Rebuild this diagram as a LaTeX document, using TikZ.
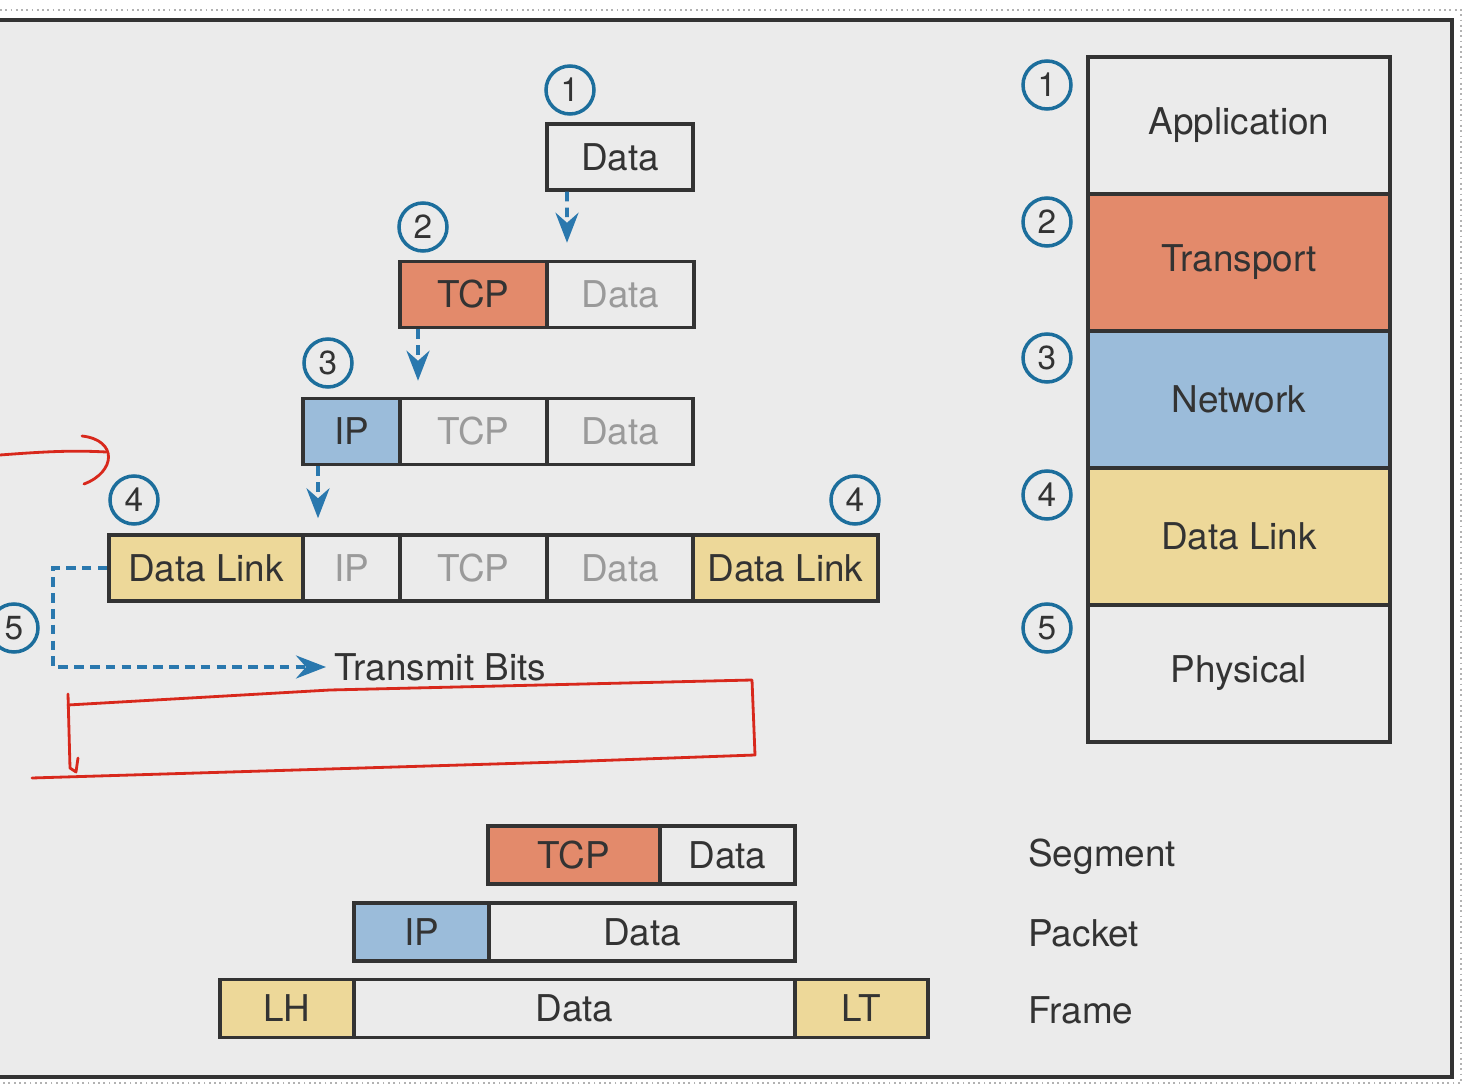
\documentclass[tikz,border=0pt]{standalone}
\usepackage{fontspec}
\setmainfont{TeX Gyre Heros}
\usetikzlibrary{arrows.meta}
\definecolor{tcporange}{HTML}{E38A6B}
\definecolor{ipblue}{HTML}{9BBCDA}
\definecolor{dlyellow}{HTML}{EDD899}
\definecolor{pagegrey}{HTML}{EBEBEB}
\definecolor{numblue}{HTML}{1C6E9C}
\definecolor{flowblue}{HTML}{2A78AE}
\definecolor{penred}{HTML}{D8281C}
\definecolor{boxline}{HTML}{333333}
\definecolor{fadedtext}{HTML}{9A9A9A}
\begin{document}
\begin{tikzpicture}[x=0.02cm,y=-0.02cm,
  cell/.style={draw=boxline,line width=2pt,minimum height=1.32cm,inner sep=0pt,
    font=\fontsize{21}{25}\selectfont,text=black!80},
  low/.style={cell,minimum height=1.16cm},
  layer/.style={cell,minimum width=6.04cm,minimum height=2.74cm},
  faded/.style={text=fadedtext},
  num/.style={circle,draw=numblue,line width=2pt,minimum size=0.96cm,inner sep=0pt,
    font=\fontsize{19}{22}\selectfont,text=black!80},
  lbl/.style={anchor=west,inner sep=0pt,font=\fontsize{21}{25}\selectfont,text=black!80},
  flow/.style={draw=flowblue,line width=2.2pt,dash pattern=on 5.5pt off 3.5pt,
    -{Stealth[length=0.6cm,width=0.46cm,inset=0.2cm,fill=flowblue]}},
  pen/.style={draw=penred,line width=1.6pt,line cap=round,line join=round}]
\useasboundingbox (0,0) rectangle (1471,1087);
\clip (0,0) rectangle (1471,1087);
\fill[white] (0,0) rectangle (1471,1087);
\fill[pagegrey] (0,20) rectangle (1452,1077);
\draw[gray!60,dotted,line width=1pt] (0,10) -- (1461,10) -- (1461,1083) -- (0,1083);
\draw[boxline,line width=2.2pt] (0,20) -- (1452,20) -- (1452,1077) -- (0,1077);

% encapsulation, top to bottom
\node[cell,minimum width=2.92cm] (data1) at (620,157) {Data};
\node[cell,minimum width=2.94cm,fill=tcporange] (tcp2) at (473.5,294.5) {TCP};
\node[cell,faded,minimum width=2.94cm,fill=pagegrey] (data2) at (620.5,294.5) {Data};
\node[cell,minimum width=1.94cm,fill=ipblue] (ip3) at (351.5,431.5) {IP};
\node[cell,faded,minimum width=2.94cm] (tcp3) at (473.5,431.5) {TCP};
\node[cell,faded,minimum width=2.92cm] (data3) at (620,431.5) {Data};
\node[cell,minimum width=3.88cm,fill=dlyellow] (dl4l) at (206,568) {Data Link};
\node[cell,faded,minimum width=1.94cm] (ip4) at (351.5,568) {IP};
\node[cell,faded,minimum width=2.94cm] (tcp4) at (473.5,568) {TCP};
\node[cell,faded,minimum width=2.92cm] (data4) at (620,568) {Data};
\node[cell,minimum width=3.70cm,fill=dlyellow] (dl4r) at (785.5,568) {Data Link};
\node[lbl] (bits) at (334,667) {Transmit Bits};

\node[num] (s1) at (570,90) {1};
\node[num] (s2) at (423,227) {2};
\node[num] (s3) at (328,363) {3};
\node[num] (s4l) at (134,500) {4};
\node[num] (s4r) at (855,500) {4};
\node[num] (s5) at (14,628) {5};

\draw[flow] ([xshift=-1.06cm]data1.south) -- ([xshift=-1.07cm,yshift=0.34cm]data2.north);
\draw[flow] ([xshift=-1.11cm]tcp2.south) -- ([xshift=-1.11cm,yshift=0.32cm]tcp3.north);
\draw[flow] ([xshift=-0.67cm]ip3.south) -- ([xshift=-0.67cm,yshift=0.3cm]ip4.north);
\draw[flow] (dl4l.west) -- ++(-54,0) |- ([xshift=-0.16cm]bits.west);

% layer stack
\node[layer] (app) at (1239,125.5) {Application};
\node[layer,fill=tcporange] (trans) at (1239,262.5) {Transport};
\node[layer,fill=ipblue] (net) at (1239,399.5) {Network};
\node[layer,fill=dlyellow] (link) at (1239,536.5) {Data Link};
\node[layer] (phys) at (1239,673.5) {Physical};
\node[num] (l1) at (1047,85) {1};
\node[num] (l2) at (1047,222) {2};
\node[num] (l3) at (1047,358) {3};
\node[num] (l4) at (1047,495) {4};
\node[num] (l5) at (1047,628) {5};

% names of the units
\node[low,minimum width=3.44cm,fill=tcporange] (segtcp) at (574,855) {TCP};
\node[low,minimum width=2.70cm] (segdata) at (727.5,855) {Data};
\node[low,minimum width=2.70cm,fill=ipblue] (pktip) at (421.5,932) {IP};
\node[low,minimum width=6.12cm] (pktdata) at (642,932) {Data};
\node[low,minimum width=2.68cm,fill=dlyellow] (frlh) at (287,1008.5) {LH};
\node[low,minimum width=8.82cm] (frdata) at (574.5,1008.5) {Data};
\node[low,minimum width=2.66cm,fill=dlyellow] (frlt) at (861.5,1008.5) {LT};
\node[lbl] (segment) at (1028,857) {Segment};
\node[lbl] (packet) at (1028,933) {Packet};
\node[lbl] (frame) at (1028,1010) {Frame};

% hand marks
\draw[pen] (0,455) .. controls (40,452) and (70,450) .. (106,452);
\draw[pen] (82,436) .. controls (118,440) and (116,472) .. (84,484);
\draw[pen] (68,705) -- (330,690) -- (752,680) -- (755,755) -- (560,762) -- (32,778);
\draw[pen] (68,694) -- (70,768) -- (76,772) -- (78,758);
\end{tikzpicture}
\end{document}
